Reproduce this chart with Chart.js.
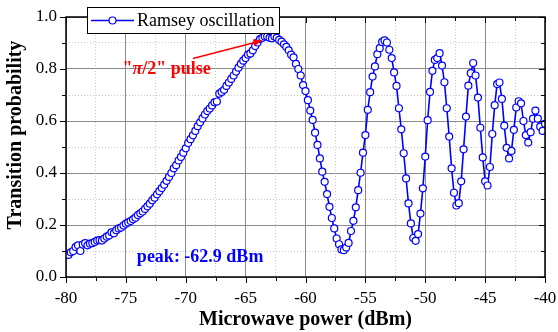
<!DOCTYPE html>
<html lang="en">
<head>
<meta charset="UTF-8">
<title>Ramsey oscillation</title>
<style>
  html, body { margin: 0; padding: 0; background: #fff; }
  canvas { display: block; }
</style>
</head>
<body>
<canvas id="ramseyChart" width="558" height="332"></canvas>
<script src="https://cdn.jsdelivr.net/npm/chart.js@4.4.0/dist/chart.umd.min.js"></script>
<script>
// microwave power (dBm), one point every 0.2 dBm
const power = [
  -79.8, -79.6, -79.4, -79.2, -79.0, -78.8, -78.6, -78.4, -78.2, -78.0,
  -77.8, -77.6, -77.4, -77.2, -77.0, -76.8, -76.6, -76.4, -76.2, -76.0,
  -75.8, -75.6, -75.4, -75.2, -75.0, -74.8, -74.6, -74.4, -74.2, -74.0,
  -73.8, -73.6, -73.4, -73.2, -73.0, -72.8, -72.6, -72.4, -72.2, -72.0,
  -71.8, -71.6, -71.4, -71.2, -71.0, -70.8, -70.6, -70.4, -70.2, -70.0,
  -69.8, -69.6, -69.4, -69.2, -69.0, -68.8, -68.6, -68.4, -68.2, -68.0,
  -67.8, -67.6, -67.4, -67.2, -67.0, -66.8, -66.6, -66.4, -66.2, -66.0,
  -65.8, -65.6, -65.4, -65.2, -65.0, -64.8, -64.6, -64.4, -64.2, -64.0,
  -63.8, -63.6, -63.4, -63.2, -63.0, -62.8, -62.6, -62.4, -62.2, -62.0,
  -61.8, -61.6, -61.4, -61.2, -61.0, -60.8, -60.6, -60.4, -60.2, -60.0,
  -59.8, -59.6, -59.4, -59.2, -59.0, -58.8, -58.6, -58.4, -58.2, -58.0,
  -57.8, -57.6, -57.4, -57.2, -57.0, -56.8, -56.6, -56.4, -56.2, -56.0,
  -55.8, -55.6, -55.4, -55.2, -55.0, -54.8, -54.6, -54.4, -54.2, -54.0,
  -53.8, -53.6, -53.4, -53.2, -53.0, -52.8, -52.6, -52.4, -52.2, -52.0,
  -51.8, -51.6, -51.4, -51.2, -51.0, -50.8, -50.6, -50.4, -50.2, -50.0,
  -49.8, -49.6, -49.4, -49.2, -49.0, -48.8, -48.6, -48.4, -48.2, -48.0,
  -47.8, -47.6, -47.4, -47.2, -47.0, -46.8, -46.6, -46.4, -46.2, -46.0,
  -45.8, -45.6, -45.4, -45.2, -45.0, -44.8, -44.6, -44.4, -44.2, -44.0,
  -43.8, -43.6, -43.4, -43.2, -43.0, -42.8, -42.6, -42.4, -42.2, -42.0,
  -41.8, -41.6, -41.4, -41.2, -41.0, -40.8, -40.6, -40.4, -40.2, -40.0
];

// transition probability
const probability = [
  0.085, 0.095, 0.100, 0.115, 0.122, 0.100, 0.125, 0.130, 0.122, 0.128,
  0.130, 0.135, 0.140, 0.142, 0.140, 0.148, 0.155, 0.160, 0.172, 0.168,
  0.180, 0.187, 0.190, 0.198, 0.205, 0.210, 0.215, 0.222, 0.228, 0.238,
  0.245, 0.252, 0.262, 0.272, 0.282, 0.295, 0.305, 0.318, 0.330, 0.342,
  0.355, 0.370, 0.385, 0.400, 0.418, 0.430, 0.448, 0.462, 0.478, 0.495,
  0.515, 0.530, 0.545, 0.562, 0.580, 0.595, 0.610, 0.625, 0.638, 0.648,
  0.660, 0.672, 0.675, 0.705, 0.712, 0.720, 0.735, 0.748, 0.762, 0.775,
  0.790, 0.805, 0.820, 0.832, 0.842, 0.855, 0.860, 0.872, 0.888, 0.902,
  0.915, 0.920, 0.925, 0.925, 0.920, 0.918, 0.925, 0.920, 0.912, 0.905,
  0.895, 0.885, 0.872, 0.855, 0.845, 0.820, 0.800, 0.775, 0.738, 0.715,
  0.680, 0.640, 0.604, 0.555, 0.508, 0.456, 0.405, 0.366, 0.319, 0.270,
  0.227, 0.187, 0.148, 0.126, 0.106, 0.103, 0.113, 0.131, 0.177, 0.216,
  0.268, 0.334, 0.401, 0.478, 0.546, 0.643, 0.711, 0.771, 0.810, 0.857,
  0.880, 0.904, 0.910, 0.902, 0.874, 0.842, 0.787, 0.735, 0.649, 0.568,
  0.476, 0.379, 0.283, 0.206, 0.150, 0.139, 0.165, 0.244, 0.341, 0.463,
  0.603, 0.712, 0.793, 0.835, 0.842, 0.861, 0.813, 0.749, 0.649, 0.540,
  0.418, 0.324, 0.275, 0.284, 0.368, 0.491, 0.617, 0.736, 0.784, 0.823,
  0.775, 0.690, 0.574, 0.460, 0.368, 0.352, 0.423, 0.550, 0.661, 0.742,
  0.748, 0.685, 0.582, 0.497, 0.456, 0.485, 0.566, 0.652, 0.676, 0.668,
  0.600, 0.546, 0.517, 0.557, 0.609, 0.640, 0.609, 0.578, 0.562, 0.589
];

const seriesName = 'Ramsey oscillation';
const xTitle = 'Microwave power (dBm)';
const yTitle = 'Transition probability';
const peakText = 'peak: -62.9 dBm';

const SERIF = "'Liberation Serif', 'DejaVu Serif', serif";
const BLUE = '#0000ff';
const RED = '#ff0000';

const isMajorX = v => Math.abs(v / 5 - Math.round(v / 5)) < 1e-6;
const isMajorY = v => Math.round(v * 10) % 2 === 0;

// keep the plot box where the reference has it
function noEdgePadding(s) {
    s.paddingLeft = 0;
    s.paddingRight = 0;
    s.paddingTop = 0;
    s.paddingBottom = 0;
}

// box frame, ticks on all four sides, legend, y title and the text notes
const decorations = {
    id: 'decorations',
    afterDraw(chart) {
        const { ctx, chartArea: a, scales: { x, y } } = chart;
        ctx.save();

        function seg(x1, y1, x2, y2) {
            ctx.beginPath();
            ctx.moveTo(x1, y1);
            ctx.lineTo(x2, y2);
            ctx.stroke();
        }

        ctx.strokeStyle = '#000';
        ctx.lineWidth = 1;
        x.ticks.forEach(t => {
            const px = Math.round(x.getPixelForValue(t.value)) + 0.5;
            const len = isMajorX(t.value) ? 6 : 4;
            seg(px, a.bottom, px, a.bottom + len);
            seg(px, a.top, px, a.top + len);
        });
        y.ticks.forEach(t => {
            const py = Math.round(y.getPixelForValue(t.value)) + 0.5;
            const len = isMajorY(t.value) ? 6 : 4;
            seg(a.left, py, a.left - len, py);
            seg(a.right, py, a.right - len, py);
        });
        ctx.lineWidth = 1.5;
        ctx.strokeRect(a.left, a.top, a.right - a.left, a.bottom - a.top);

        // y axis title, sits a little above the middle of the box
        ctx.save();
        ctx.translate(16, (a.top + a.bottom) / 2 - 12);
        ctx.rotate(-Math.PI / 2);
        ctx.fillStyle = '#000';
        ctx.font = 'bold 20px ' + SERIF;
        ctx.textAlign = 'center';
        ctx.textBaseline = 'middle';
        ctx.fillText(yTitle, 0, 0);
        ctx.restore();

        // legend box
        const lx = a.left + 21, ly = a.top - 10, lw = 192, lh = 26;
        ctx.fillStyle = '#fff';
        ctx.fillRect(lx, ly, lw, lh);
        ctx.lineWidth = 1;
        ctx.strokeStyle = '#000';
        ctx.strokeRect(lx + 0.5, ly + 0.5, lw, lh);
        const my = ly + lh / 2 + 0.5;
        ctx.strokeStyle = BLUE;
        ctx.lineWidth = 1.5;
        seg(lx + 4, my, lx + 47, my);
        ctx.beginPath();
        ctx.arc(lx + 25.5, my, 3.5, 0, Math.PI * 2);
        ctx.fillStyle = '#fff';
        ctx.fill();
        ctx.lineWidth = 1.2;
        ctx.stroke();
        ctx.fillStyle = '#000';
        ctx.font = '18px ' + SERIF;
        ctx.textBaseline = 'middle';
        ctx.textAlign = 'left';
        ctx.fillText(seriesName, lx + 50, my + 1);

        // "pi/2" pulse note with arrow to the first maximum
        ctx.fillStyle = RED;
        ctx.textBaseline = 'alphabetic';
        const parts = [
            ['bold 18px ' + SERIF, '"'],
            ['bold italic 18px ' + SERIF, '\u03c0'],
            ['bold 18px ' + SERIF, '/2" pulse']
        ];
        const widths = parts.map(p => { ctx.font = p[0]; return ctx.measureText(p[1]).width; });
        let tx = x.getPixelForValue(-71.6) - widths.reduce((s, w) => s + w, 0) / 2;
        const ty = y.getPixelForValue(0.78);
        parts.forEach((p, i) => {
            ctx.font = p[0];
            ctx.fillText(p[1], tx, ty);
            tx += widths[i];
        });
        const ax1 = x.getPixelForValue(-69.4), ay1 = y.getPixelForValue(0.84);
        const ax2 = x.getPixelForValue(-63.6), ay2 = y.getPixelForValue(0.91);
        ctx.strokeStyle = RED;
        ctx.lineWidth = 1.5;
        const ang = Math.atan2(ay2 - ay1, ax2 - ax1);
        seg(ax1, ay1, ax2 - 6 * Math.cos(ang), ay2 - 6 * Math.sin(ang));
        ctx.beginPath();
        ctx.moveTo(ax2, ay2);
        ctx.lineTo(ax2 - 9 * Math.cos(ang) + 3.5 * Math.sin(ang), ay2 - 9 * Math.sin(ang) - 3.5 * Math.cos(ang));
        ctx.lineTo(ax2 - 9 * Math.cos(ang) - 3.5 * Math.sin(ang), ay2 - 9 * Math.sin(ang) + 3.5 * Math.cos(ang));
        ctx.closePath();
        ctx.fill();

        // peak position note
        ctx.fillStyle = BLUE;
        ctx.font = 'bold 18px ' + SERIF;
        ctx.textAlign = 'center';
        ctx.fillText(peakText, x.getPixelForValue(-68.8), y.getPixelForValue(0.057));

        ctx.restore();
    }
};

const points = power.map((p, i) => ({ x: p, y: probability[i] }));

new Chart(document.getElementById('ramseyChart'), {
    type: 'line',
    data: {
        datasets: [{
            label: seriesName,
            data: points,
            borderColor: BLUE,
            borderWidth: 1.6,
            pointRadius: 3.5,
            pointBorderWidth: 1.2,
            pointBackgroundColor: '#fff',
            pointBorderColor: BLUE,
            tension: 0
        }]
    },
    options: {
        responsive: false,
        animation: false,
        layout: { padding: { top: 17, right: 13, left: 0, bottom: 0 } },
        plugins: {
            legend: { display: false },
            tooltip: { enabled: false }
        },
        scales: {
            x: {
                type: 'linear',
                min: -80,
                max: -40,
                afterFit: s => { s.height = 55; noEdgePadding(s); },
                ticks: {
                    stepSize: 2.5,
                    autoSkip: false,
                    maxRotation: 0,
                    padding: 11,
                    color: '#000',
                    font: { family: SERIF, size: 17 },
                    callback: v => isMajorX(v) ? String(v) : ''
                },
                grid: {
                    drawTicks: false,
                    lineWidth: 1,
                    color: c => (c.tick && isMajorX(c.tick.value)) ? '#8c8c8c' : '#c8c8c8'
                },
                border: {
                    display: false,
                    dash: c => (c.tick && !isMajorX(c.tick.value)) ? [1, 2] : []
                },
                title: {
                    display: true,
                    text: xTitle,
                    color: '#000',
                    font: { family: SERIF, size: 20, weight: 'bold' },
                    padding: { top: 0, bottom: 0 }
                }
            },
            y: {
                min: 0,
                max: 1,
                afterFit: s => { s.width = 66; noEdgePadding(s); },
                ticks: {
                    stepSize: 0.1,
                    autoSkip: false,
                    padding: 9,
                    color: '#000',
                    font: { family: SERIF, size: 17 },
                    callback: v => isMajorY(v) ? v.toFixed(1) : ''
                },
                grid: {
                    drawTicks: false,
                    lineWidth: 1,
                    color: c => (c.tick && isMajorY(c.tick.value)) ? '#8c8c8c' : '#c8c8c8'
                },
                border: {
                    display: false,
                    dash: c => (c.tick && !isMajorY(c.tick.value)) ? [1, 2] : []
                }
            }
        }
    },
    plugins: [decorations]
});
</script>
</body>
</html>
